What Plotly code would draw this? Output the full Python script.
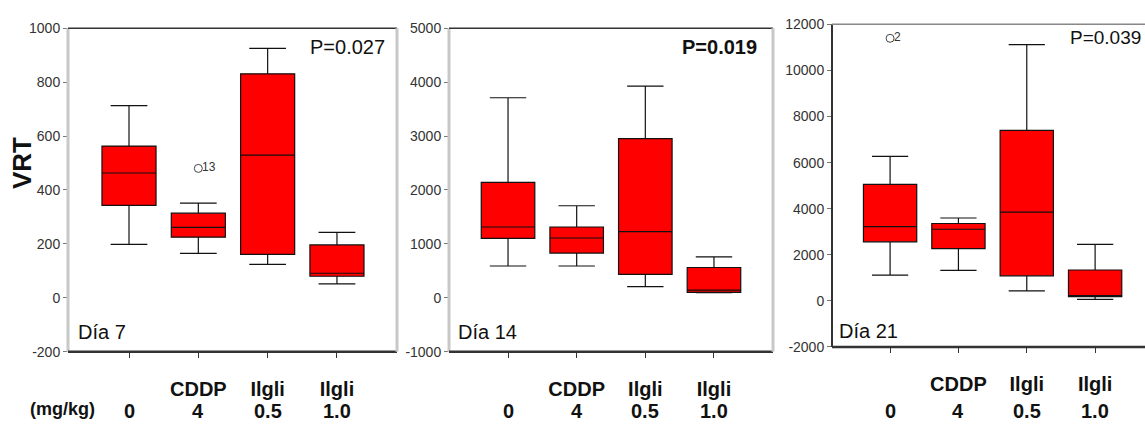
import plotly.graph_objects as go

W, H = 1145, 430

categories = [0, 1, 2, 3]
drug_labels = ["", "CDDP", "Ilgli", "Ilgli"]
dose_labels = ["0", "4", "0.5", "1.0"]

# Día 7
d7_low = [198, 165, 124, 52]
d7_q1 = [343, 225, 161, 80]
d7_med = [463, 261, 529, 91]
d7_q3 = [563, 314, 831, 196]
d7_high = [713, 351, 925, 243]
d7_out_x = [1]
d7_out_y = [480]
d7_out_lbl = ["13"]

# Día 14
d14_low = [590, 590, 209, 95]
d14_q1 = [1104, 830, 436, 102]
d14_med = [1313, 1109, 1229, 143]
d14_q3 = [2141, 1313, 2952, 562]
d14_high = [3710, 1707, 3925, 758]

# Día 21
d21_low = [1112, 1321, 431, 67]
d21_q1 = [2562, 2270, 1087, 180]
d21_med = [3219, 3106, 3846, 209]
d21_q3 = [5058, 3357, 7399, 1338]
d21_high = [6270, 3595, 11119, 2450]
d21_out_x = [0]
d21_out_y = [11395]
d21_out_lbl = ["2"]

p_values = ["P=0.027", "P=0.019", "P=0.039"]
day_labels = ["Día 7", "Día 14", "Día 21"]
y_ranges = [[-200, 1000], [-1000, 5000], [-2000, 12000]]
y_ticks = [list(range(-200, 1001, 200)), list(range(-1000, 5001, 1000)),
           list(range(-2000, 12001, 2000))]

SANS = "Liberation Sans, Arial, sans-serif"

def px(x):
    return x / W

def py(y):
    return 1 - y / H

# panel pixel boxes: left, right, top, bottom
panels = [(68, 397, 21, 357), (449, 773, 21, 357), (832, 1145, 17, 352)]
x_ranges = [[-0.88, 3.866], [-0.86, 3.86], [-0.85, 3.73]]

fig = go.Figure()

data = [
    (d7_low, d7_q1, d7_med, d7_q3, d7_high),
    (d14_low, d14_q1, d14_med, d14_q3, d14_high),
    (d21_low, d21_q1, d21_med, d21_q3, d21_high),
]

def axname(i):
    return ("x", "y") if i == 0 else (f"x{i+1}", f"y{i+1}")

for i, (lo, q1, med, q3, hi) in enumerate(data):
    xa, ya = axname(i)
    fig.add_trace(go.Box(
        x=categories, q1=q1, median=med, q3=q3, lowerfence=lo, upperfence=hi,
        xaxis=xa, yaxis=ya, width=0.78, whiskerwidth=0.68,
        fillcolor="#FF0000", line=dict(color="#111111", width=1.2),
        boxpoints=False, showlegend=False, hoverinfo="skip",
    ))

outliers = [(0, d7_out_x, d7_out_y, d7_out_lbl), (2, d21_out_x, d21_out_y, d21_out_lbl)]
for i, ox, oy, ol in outliers:
    xa, ya = axname(i)
    fig.add_trace(go.Scatter(
        x=ox, y=oy, xaxis=xa, yaxis=ya, mode="markers",
        marker=dict(symbol="circle-open", size=8, color="#444444", line=dict(width=1)),
        showlegend=False, hoverinfo="skip",
    ))
    for xx, yy, tt in zip(ox, oy, ol):
        fig.add_annotation(x=xx, y=yy, xref=xa, yref=ya, text=tt, showarrow=False,
                           xanchor="left", xshift=2, yshift=1,
                           font=dict(family=SANS, size=12, color="#333333"))

layout = {}
shapes = []
for i, (l, r, t, b) in enumerate(panels):
    sx = "" if i == 0 else str(i + 1)
    xa, ya = axname(i)
    layout[f"xaxis{sx}"] = dict(
        domain=[px(l), min(1.0, px(r))], range=x_ranges[i], anchor=ya,
        tickvals=categories, ticktext=drug_labels, ticks="outside", ticklen=5,
        tickcolor="#333333", showgrid=False, zeroline=False, showline=False,
        tickfont=dict(family=SANS, size=20, color="#111111", weight="bold"),
        ticklabelstandoff=14, fixedrange=True,
    )
    layout[f"yaxis{sx}"] = dict(
        domain=[py(b), py(t)], range=y_ranges[i], anchor=xa,
        tickvals=y_ticks[i], ticktext=[str(v) for v in y_ticks[i]],
        ticks="outside", ticklen=4, tickcolor="#777777",
        showgrid=False, zeroline=False, showline=False,
        tickfont=dict(family=SANS, size=14, color="#333333"),
        ticklabelstandoff=0, fixedrange=True,
    )
    # dose labels under each category, positioned via the x axis scale
    for c, d in zip(categories, dose_labels):
        fig.add_annotation(x=c, xref=xa, y=py(419), yref="paper", text=d,
                           showarrow=False, xanchor="center", yanchor="middle",
                           font=dict(family=SANS, size=20, color="#111111", weight="bold"))
    xd = f"{xa} domain"
    yd = f"{ya} domain"
    left_col = "#333333" if i == 2 else "#C8C8C8"
    left_w = 2 if i == 2 else 3
    top_col = "#888888" if i == 2 else "#333333"
    shapes += [
        dict(type="line", xref=xd, yref=yd, x0=0, x1=0, y0=0, y1=1,
             line=dict(color=left_col, width=left_w)),
        dict(type="line", xref=xd, yref=yd, x0=0, x1=1, y0=1, y1=1,
             line=dict(color=top_col, width=1.5)),
        dict(type="line", xref=xd, yref=yd, x0=0, x1=1, y0=0, y1=0,
             line=dict(color="#333333", width=2.5)),
    ]
    if i < 2:
        shapes.append(dict(type="line", xref=xd, yref=yd, x0=1, x1=1, y0=0, y1=1,
                           line=dict(color="#C8C8C8", width=3)))

annotations = []
# P values
annotations.append(dict(x=px(387), y=py(41), text=p_values[0], xanchor="right",
                        font=dict(family=SANS, size=20, color="#111111")))
annotations.append(dict(x=px(759), y=py(41), text=p_values[1], xanchor="right",
                        font=dict(family=SANS, size=20, color="#111111", weight="bold")))
annotations.append(dict(x=px(1143), y=py(31), text=p_values[2], xanchor="right",
                        font=dict(family=SANS, size=19, color="#111111")))
# Day labels
annotations.append(dict(x=px(76), y=py(337), text=day_labels[0], xanchor="left",
                        font=dict(family=SANS, size=20, color="#111111")))
annotations.append(dict(x=px(456), y=py(337), text=day_labels[1], xanchor="left",
                        font=dict(family=SANS, size=20, color="#111111")))
annotations.append(dict(x=px(837), y=py(335), text=day_labels[2], xanchor="left",
                        font=dict(family=SANS, size=20, color="#111111")))
# units
annotations.append(dict(x=px(62), y=py(417), text="(mg/kg)", xanchor="center",
                        font=dict(family=SANS, size=18, color="#111111", weight="bold")))
# y title
annotations.append(dict(x=px(22), y=py(161), text="VRT", textangle=-90, xanchor="center",
                        font=dict(family=SANS, size=26, color="#111111", weight="bold")))
for a in annotations:
    a.update(xref="paper", yref="paper", showarrow=False, yanchor="middle")
    fig.add_annotation(**a)

fig.update_layout(
    width=W, height=H, margin=dict(l=0, r=0, t=0, b=0),
    paper_bgcolor="white", plot_bgcolor="white",
    shapes=shapes, **layout,
)

fig.write_html("out.html")
